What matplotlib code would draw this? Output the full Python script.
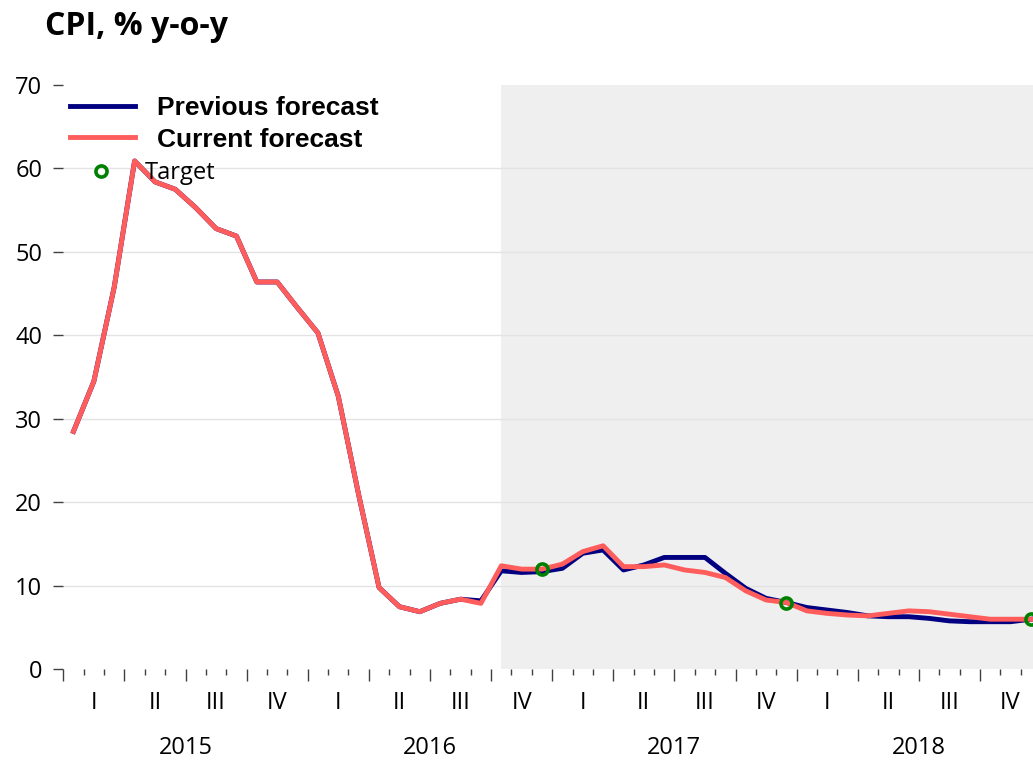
import numpy as np
import matplotlib
matplotlib.use("Agg")
import matplotlib.pyplot as plt

# Monthly CPI, % y-o-y, Jan 2015 - Dec 2018
years = [2015, 2016, 2017, 2018]
quarters = ["I", "II", "III", "IV"]

previous_forecast = [28.5, 34.5, 45.8, 60.9, 58.4, 57.5, 55.3, 52.8, 51.9, 46.4, 46.4, 43.3,
                     40.3, 32.7, 20.9, 9.8, 7.5, 6.9, 7.9, 8.4, 8.2, 11.8, 11.6, 11.7,
                     12.1, 13.9, 14.3, 11.9, 12.5, 13.4, 13.4, 13.4, 11.5, 9.7, 8.5, 8.0,
                     7.4, 7.1, 6.8, 6.4, 6.3, 6.3, 6.1, 5.8, 5.7, 5.7, 5.7, 6.0]

current_forecast = [28.5, 34.5, 45.8, 60.9, 58.4, 57.5, 55.3, 52.8, 51.9, 46.4, 46.4, 43.3,
                    40.3, 32.7, 20.9, 9.8, 7.5, 6.9, 7.9, 8.4, 7.9, 12.4, 12.0, 12.0,
                    12.6, 14.1, 14.8, 12.3, 12.3, 12.5, 11.9, 11.6, 11.0, 9.4, 8.3, 8.0,
                    7.0, 6.7, 6.5, 6.4, 6.7, 7.0, 6.9, 6.6, 6.3, 6.0, 6.0, 6.0]

forecast_start = 21          # Oct 2016
target_months = [23, 35, 47]  # Dec of 2016, 2017, 2018
target_values = [12, 8, 6]

NAVY = "#000080"
SALMON = "#ff5c5c"
GREEN = "#008000"
TICK_GRAY = "#404040"

plt.rcParams["font.family"] = ["Open Sans", "DejaVu Sans"]

W, H = 1033, 762
fig = plt.figure(figsize=(W / 100, H / 100), dpi=100)
ax = fig.add_axes([63.3 / W, (H - 669.3) / H, 977.8 / W, 584.3 / H])

n = len(current_forecast)
x = np.arange(n) + 0.5

ax.axvspan(x[forecast_start], n, color="#efefef", lw=0, zorder=0)

prev_line, = ax.plot(x, previous_forecast, color=NAVY, lw=3.5, zorder=3,
                     label="Previous forecast")
cur_line, = ax.plot(x, current_forecast, color=SALMON, lw=3.5, zorder=4,
                    label="Current forecast")
tgt_line, = ax.plot(x[target_months], target_values, ls="none", marker="o",
                    ms=8.0, mew=2.6, mec=GREEN, mfc="none", zorder=5, label="Target")

ax.set_xlim(0, n)
ax.set_ylim(0, 70)

for s in ax.spines.values():
    s.set_visible(False)

# y axis
ax.set_yticks(np.arange(0, 71, 10))
ax.tick_params(axis="y", length=7.2, width=1, color=TICK_GRAY, pad=8,
               labelsize=17, labelcolor="black")
ax.grid(axis="y", color="#e3e3e3", lw=1, zorder=1)
gl = ax.get_ygridlines()
gl[0].set_visible(False)
gl[-1].set_visible(False)

# x axis: month ticks, quarter ticks longer
ax.set_xticks(np.arange(0, n + 1, 3))
ax.set_xticks([m for m in range(n + 1) if m % 3], minor=True)
ax.tick_params(axis="x", which="major", length=8.8, width=1, color=TICK_GRAY,
               labelbottom=False)
ax.tick_params(axis="x", which="minor", length=4.6, width=1, color=TICK_GRAY)

trans = ax.get_xaxis_transform()
for q in range(n // 3):
    ax.text(q * 3 + 1.5, (669.3 - 709) / 584.3, quarters[q % 4], transform=trans,
            ha="center", va="baseline", fontsize=17)
for i, yr in enumerate(years):
    ax.text(i * 12 + 6, (669.3 - 754) / 584.3, str(yr), transform=trans,
            ha="center", va="baseline", fontsize=17)

fig.text(45 / W, 1 - 35 / H, "CPI, % y-o-y", fontsize=23, fontweight="bold",
         va="baseline", ha="left")

leg1 = fig.legend(handles=[prev_line, cur_line], loc="upper left",
                  bbox_to_anchor=(70 / W, 1 - 96 / H), frameon=False,
                  borderpad=0, borderaxespad=0, handlelength=2.46,
                  handletextpad=0.83, labelspacing=0.29,
                  prop={"family": "Liberation Sans", "weight": "bold", "size": 19})
leg2 = fig.legend(handles=[tgt_line], loc="upper left",
                  bbox_to_anchor=(70 / W, 1 - 161 / H), frameon=False,
                  borderpad=0, borderaxespad=0, handlelength=2.63,
                  handletextpad=0.55, prop={"size": 17})

fig.savefig("out.png", dpi=100)
